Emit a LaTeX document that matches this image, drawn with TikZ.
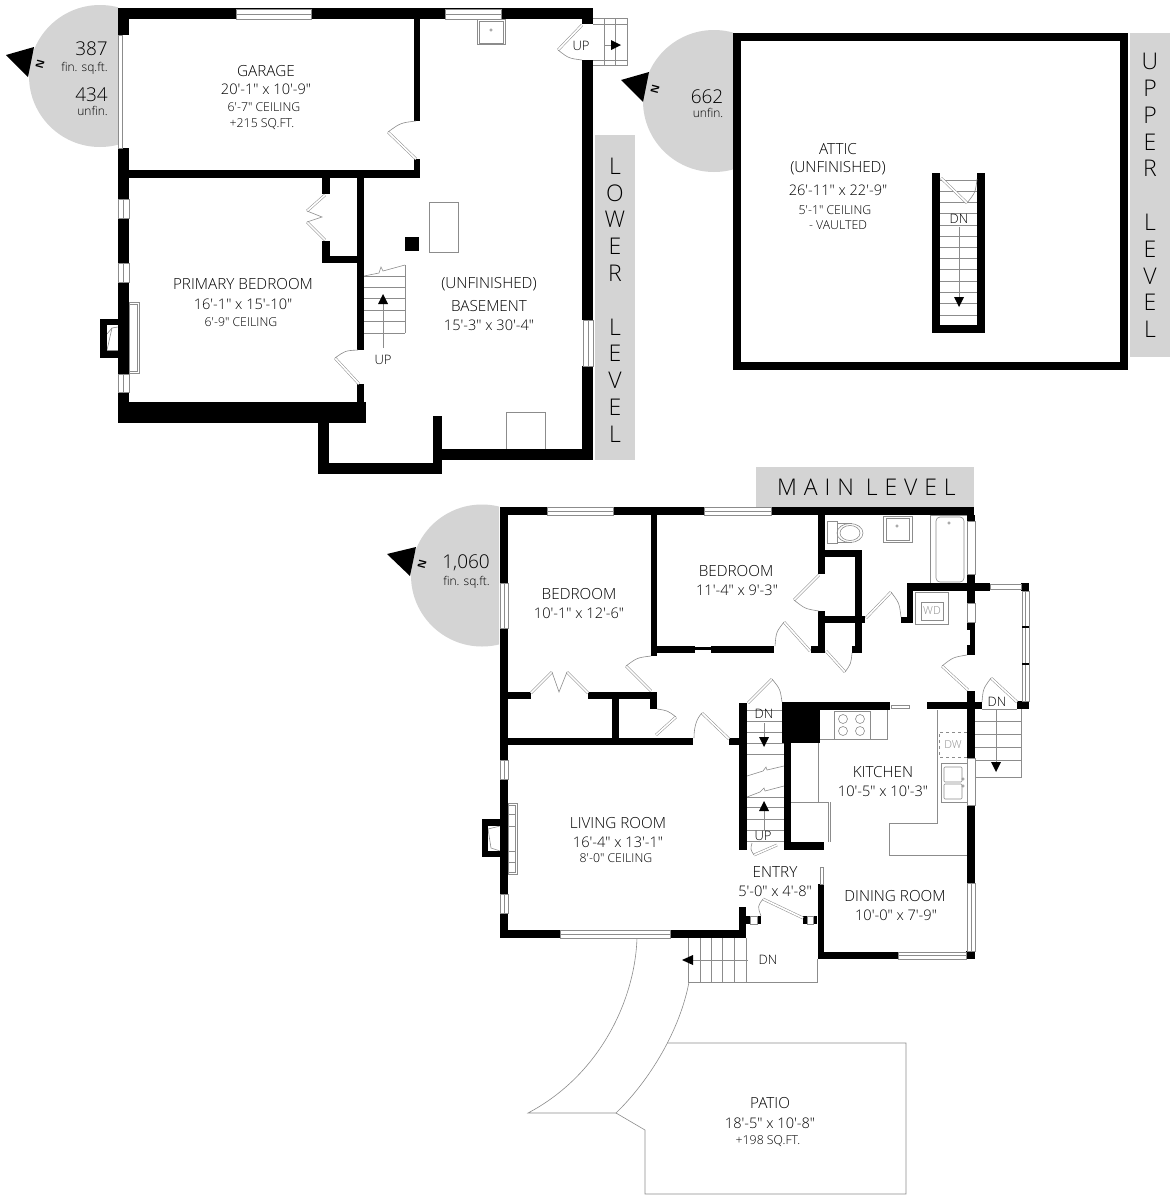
\documentclass[tikz,border=0pt]{standalone}
\usepackage{fontspec}
\usetikzlibrary{calc}
\newfontfamily\planfont{Open Sans Light}
\definecolor{tagbg}{gray}{0.83}
\definecolor{fixture}{gray}{0.55}
\tikzset{
  room/.style={font=\planfont\fontsize{15.3}{15.3}\selectfont,inner sep=0pt,text=black},
  dims/.style={font=\planfont\fontsize{14.6}{14.6}\selectfont,inner sep=0pt,text=black},
  note/.style={font=\planfont\fontsize{12.3}{12.3}\selectfont,inner sep=0pt,text=black},
  stairtext/.style={font=\planfont\fontsize{13}{13}\selectfont,inner sep=0pt,text=black},
  areanum/.style={font=\planfont\fontsize{19}{19}\selectfont,inner sep=0pt,anchor=east,text=black},
  areatxt/.style={font=\planfont\fontsize{12}{12}\selectfont,inner sep=0pt,anchor=east,text=black},
  levelname/.style={font=\planfont\fontsize{23}{26.8}\selectfont,inner sep=0pt,align=center},
  north/.style={font=\sffamily\bfseries\fontsize{11}{11}\selectfont,inner sep=0pt,rotate=75},
  thinline/.style={draw=fixture,line width=0.6pt},
  leaf/.style={draw=fixture,line width=0.5pt,double=white,double distance=1.7pt},
  pane/.style={fill=white,draw=fixture,line width=0.5pt}
}
% door: hinge, end of leaf, end of swing
\newcommand{\door}[3]{
  \draw[leaf] (#1) -- (#2);
  \draw[thinline] (#2) .. controls ($(#1)!1.11!($(#2)!0.5!(#3)$)$) .. (#3);
}
% window across a wall, x1 y1 x2 y2
\newcommand{\panerect}[4]{
  \draw[pane] (#1,#2) rectangle (#3,#4);
}
\begin{document}
\begin{tikzpicture}[x=1pt,y=-1pt]
\useasboundingbox (0,0) rectangle (1175,1200);
\fill[white] (0,0) rectangle (1175,1200);

% level tags
\begin{scope}
  \clip (0,0) rectangle (118,200);
  \fill[tagbg] (100,76) circle (71);
\end{scope}
\begin{scope}
  \clip (600,0) rectangle (733,200);
  \fill[tagbg] (714,101) circle (71);
\end{scope}
\begin{scope}
  \clip (400,480) rectangle (499,660);
  \fill[tagbg] (482,575.5) circle (71);
\end{scope}
\fill[tagbg] (595,135) rectangle (635,460);
\fill[tagbg] (1130,33) rectangle (1170,357);
\fill[tagbg] (756,467) rectangle (974,507);
\fill (6,55) -- (34,47) -- (28,77) -- cycle;
\fill (621,80) -- (649,72) -- (643,102) -- cycle;
\fill (387,554) -- (416,547) -- (410,576) -- cycle;

% lower level, fixtures
\draw[thinline] (477,19) rectangle (505,44);
\draw[thinline] (479,21) rectangle (503,43);
\draw[thinline] (491,30) circle (1.3);
\draw[thinline] (429,202) rectangle (458,252);
\draw[thinline] (506,449) -- (506,412) -- (545,412) -- (545,449);
\draw[thinline] (593,18) -- (627,18) -- (627,65) -- (593,65);
\foreach \sx in {604,615} \draw[thinline] (\sx,18) -- (\sx,65);
\draw[thinline] (593,24) -- (627,24);
\draw[thinline] (593,60) -- (627,60);
\draw[thinline] (604,45) -- (612,45);
\fill (611,40) -- (621,45) -- (611,50) -- cycle;
% lower stairs
\draw[thinline] (405,265) -- (405,333);
\foreach \sy in {287,298,310,321,333} \draw[thinline] (364,\sy) -- (405,\sy);
\draw[thinline] (364,276) -- (405,276);
\draw[thinline] (364,276) -- (379,273) -- (381,267) -- (383,271) -- (405,265);
\draw[thinline] (383,348) -- (383,303);
\fill (378,304) -- (383,294) -- (388,304) -- cycle;
% lower fireplace
\draw[thinline] (129,302) rectangle (139,373);
\draw[thinline] (129,304) -- (137,304) -- (137,371) -- (129,371);
\draw[thinline] (118,327) -- (112,328) -- (107,334);
\draw[thinline] (118,350) -- (107,350);
\draw[thinline] (112,328) -- (107,350);

% lower level, walls
\foreach \xa/\ya/\xb/\yb in {
  118/8/593/19, 118/8/129/35, 118/148/129/178, 118/170/420/178, 414/19/420/121, 414/159/420/178,
  118/178/129/199, 118/218/129/263, 118/282/129/374, 118/392/129/423,
  118/402/366/423, 100/319/118/325, 100/351/118/358, 100/319/107/358,
  322/178/330/194, 322/241/330/263, 322/256/364/263, 357/178/364/350, 357/384/364/402,
  318/423/329/474, 318/463/442/474, 433/416/442/474, 433/449/593/460,
  582/8/593/24, 582/60/593/320, 582/366/593/460, 405/237/419/251}
  \fill (\xa,\ya) rectangle (\xb,\yb);
% lower level, windows
\panerect{236}{9}{311}{19}
\draw[thinline] (236,14) -- (311,14);
\panerect{445}{9}{501}{19}
\draw[thinline] (445,14) -- (501,14);
\panerect{118}{35}{122}{148}
\panerect{118}{199}{129}{218}
\draw[thinline] (123.5,199) -- (123.5,218);
\panerect{118}{263}{129}{282}
\draw[thinline] (123.5,263) -- (123.5,282);
\panerect{118}{374}{129}{392}
\draw[thinline] (123.5,374) -- (123.5,392);
\panerect{583}{320}{593}{366}
\draw[thinline] (588,320) -- (588,366);
% lower level, doors
\door{416,159}{388,132}{416,121}
\door{359,384}{335,358}{358,350}
\door{582,25}{558,50}{582,60}
\draw[leaf] (325,195) -- (307,211);
\draw[leaf] (307,222) -- (325,240);
\draw[thinline] (307,211) -- (322,217) -- (307,222);

% attic
\draw[line width=7.5pt] (737,37) rectangle (1124,366);
\foreach \sy in {180,191,202,213,225,236,247,258,269,281,292,303,315}
  \draw[thinline] (940,\sy) -- (977,\sy);
\draw[thinline] (959,227) -- (959,298);
\fill (954,297) -- (964,297) -- (959,307) -- cycle;
\foreach \xa/\ya/\xb/\yb in {932/173/940/333, 977/173/985/333, 932/325/985/333}
  \fill (\xa,\ya) rectangle (\xb,\yb);
\door{941,178}{967,203}{977,179}

% main level, patio and walk
\draw[thinline] (637,938) .. controls (635,1000) and (600,1075) .. (528,1113) -- (616,1113);
\draw[thinline] (689,982) .. controls (680,1030) and (650,1080) .. (616,1113);
\draw[thinline] (667,1043) -- (906,1043) -- (906,1194) -- (645,1194) -- (645,1130) -- (616,1113);
% main level, porch
\draw[thinline] (688,938) -- (688,982) -- (817,982) -- (817,959);
\foreach \sx in {700,711,722,734,746} \draw[thinline] (\sx,938) -- (\sx,982);
\draw[thinline] (748,960) -- (690,960);
\fill (682,960) -- (693,955) -- (693,965) -- cycle;
% main level, back stairs
\draw[thinline] (975,777) -- (1021,777) -- (1021,709);
\foreach \sy in {721,734,747,760} \draw[thinline] (975,\sy) -- (1021,\sy);
\draw[thinline] (996,710) -- (996,764);
\fill (991,762) -- (1001,762) -- (996,772) -- cycle;
\draw[thinline] (982,709) -- (1017,709);
% main level, inner stairs
\foreach \sy in {710,721,732,743,754,797,807,819,830,841} \draw[thinline] (747,\sy) -- (784,\sy);
\draw[thinline] (747,776) -- (763,771) -- (766,767) -- (767,770) -- (784,766);
\draw[thinline] (747,797) -- (760,792) -- (764,788) -- (765,791) -- (784,786);
\draw[thinline] (764,723) -- (764,738);
\fill (759,737) -- (769,737) -- (764,747) -- cycle;
\draw[thinline] (764,830) -- (764,810);
\fill (759,811) -- (764,801) -- (769,811) -- cycle;
% main level, fireplace
\draw[thinline] (508,803) rectangle (517,874);
\draw[thinline] (508,805) -- (515,805) -- (515,872) -- (508,872);
\foreach \sy in {814,826,851,862} \draw[thinline] (508,\sy) -- (515,\sy);
\draw[thinline] (500,826) -- (488,829) -- (491,848) -- (500,851);
% main level, bath
\draw[thinline] (827,521) rectangle (837,543);
\draw[thinline] (837,523) -- (852,523);
\draw[thinline] (837,542) -- (852,542);
\draw[thinline] (850,533) ellipse (13 and 9.5);
\draw[thinline] (850,533) ellipse (10 and 7.5);
\draw[thinline] (883,516) rectangle (912,542);
\draw[thinline] (886,518) rectangle (909,540);
\draw[thinline] (897,526) circle (1.3);
\draw[thinline] (930,515) rectangle (967,583);
\draw[thinline,rounded corners=4pt] (936,517) rectangle (964,582);
\draw[thinline] (949,523) circle (1.3);
\draw[thinline] (915,592) rectangle (948,624);
\draw[thinline] (921,602) rectangle (943,620);
\node (MainWasher) [text=fixture,inner sep=0pt,font=\planfont\fontsize{11}{11}\selectfont] at (932,611) {WD};
% main level, kitchen
\draw[thinline] (820,739) -- (887,739) -- (887,710);
\draw[thinline] (834,711) rectangle (870,739);
\foreach \cx/\cy in {843/719,860/719,843/731,860/731} \draw[thinline] (\cx,\cy) circle (4.5);
\draw[thinline] (818,743) -- (818,802);
\draw[thinline] (791,802) -- (828,802) -- (828,842);
\draw[thinline] (830,802) -- (830,842);
\draw[thinline] (937,710) -- (937,823) -- (889,823) -- (889,855) -- (967,855);
\draw[thinline,dashed] (967,732) -- (939,732) -- (939,757) -- (967,757);
\node (MainDishwasher) [text=fixture,inner sep=0pt,font=\planfont\fontsize{11}{11}\selectfont] at (953,745) {DW};
\draw[thinline] (941,763) rectangle (967,802);
\draw[thinline,rounded corners=1pt] (944,767) rectangle (962,782);
\draw[thinline,rounded corners=1pt] (944,784) rectangle (962,799);
\draw[thinline] (963,779) circle (1.3);
\draw[thinline] (963,786) circle (1.3);

% main level, walls
\foreach \xa/\ya/\xb/\yb in {
  500/507/974/515, 500/507/508/583, 500/628/508/760, 500/779/508/894, 500/913/508/938,
  482/819/500/826, 482/851/500/857, 482/819/488/857,
  500/930/746/938, 508/692/531/699, 588/692/657/699, 612/699/619/738,
  651/515/657/656, 650/692/657/709, 500/738/693/745, 729/738/740/745,
  657/646/695/653, 711/646/774/653, 695/647/711/650,
  818/515/825/574, 818/611/825/653, 818/550/862/557, 855/550/862/653, 818/616/865/623,
  811/646/825/653, 852/646/862/653,
  907/583/990/591, 907/583/913/623, 901/617/913/623,
  967/515/975/521, 967/574/975/603, 967/622/975/630, 970/630/975/645, 967/645/975/655, 967/691/975/758, 967/805/975/883,
  966/951/975/959, 1021/583/1029/591, 1017/701/1029/709,
  739/703/747/850, 784/702/791/850, 782/702/890/710, 782/702/820/743,
  791/842/824/850, 927/702/982/709, 739/907/746/938, 818/884/824/959, 818/952/898/959,
  746/916/750/924, 757/916/761/924, 803/916/807/924, 813/916/817/924}
  \fill (\xa,\ya) rectangle (\xb,\yb);
% main level, windows
\panerect{547}{507}{613}{515}
\draw[thinline] (547,511) -- (613,511);
\panerect{704}{507}{771}{515}
\draw[thinline] (704,511) -- (771,511);
\panerect{500}{583}{508}{628}
\draw[thinline] (504,583) -- (504,628);
\panerect{500}{760}{508}{779}
\draw[thinline] (504,760) -- (504,779);
\panerect{500}{894}{508}{913}
\draw[thinline] (504,894) -- (504,913);
\panerect{560}{930}{670}{938}
\draw[thinline] (560,934) -- (670,934);
\panerect{967}{521}{975}{574}
\panerect{967}{603}{975}{622}
\panerect{967}{758}{975}{805}
\panerect{967}{883}{975}{951}
\draw[thinline] (971,883) -- (971,951);
\panerect{898}{952}{966}{959}
\draw[thinline] (898,955.5) -- (966,955.5);
\panerect{990}{584}{1021}{589}
\panerect{1022}{591}{1029}{701}
\draw[thinline] (1025.5,591) -- (1025.5,701);
\fill (1022,626) rectangle (1029,628);
\fill (1022,663) rectangle (1029,665);
\panerect{750}{916}{757}{924}
\panerect{807}{916}{813}{924}
\panerect{891}{705}{909}{708}
\panerect{820}{867}{823}{884}
% main level, doors
\door{651,691}{626,666}{651,656}
\door{656,735}{676,717}{657,709}
\draw[leaf] (729,739) -- (702,713);
\draw[thinline] (702,713) .. controls (697,718) and (694,726) .. (694,738);
\door{810,651}{784,622}{775,646}
\door{819,575}{794,600}{819,611}
\door{826,651}{845,672}{852,653}
\door{866,618}{891,592}{901,617}
\door{968,690}{942,666}{967,655}
\door{1017,702}{991,678}{982,702}
\door{748,703}{772,679}{782,702}
\door{777,845}{754,855}{752,843}
\door{803,918}{763,899}{761,916}
\draw[leaf] (531,693) -- (552,672);
\draw[leaf] (588,693) -- (567,672);
\draw[thinline] (552,672) -- (559,692) -- (567,672);

% lower level, labels
\node (AreaLowerFin) [areanum] at (108,49) {387};
\node (AreaLowerFinTxt) [areatxt] at (108,68) {fin. sq.ft.};
\node (AreaLowerUnf) [areanum] at (108,95) {434};
\node (AreaLowerUnfTxt) [areatxt] at (108,111) {unfin.};
\node (NorthLower) [north] at (40,64) {N};
\node (Garage) [room] at (266,71) {GARAGE};
\node (GarageSize) [dims] at (266,89) {20'-1" x 10'-9"};
\node (GarageCeil) [note] at (264,107) {6'-7" CEILING};
\node (GarageArea) [note] at (262,124) {+215 SQ.FT.};
\node (Primary) [room] at (243,284) {PRIMARY BEDROOM};
\node (PrimarySize) [dims] at (243,304) {16'-1" x 15'-10"};
\node (PrimaryCeil) [note] at (241,322) {6'-9" CEILING};
\node (BasementA) [room] at (489,284) {(UNFINISHED)};
\node (BasementB) [room] at (489,306) {BASEMENT};
\node (BasementSize) [dims] at (489,325) {15'-3" x 30'-4"};
\node (LowerUp) [stairtext] at (383,360) {UP};
\node (BackUp) [stairtext] at (581,46) {UP};
\node (LowerTag) [levelname] at (615,300) {L\\O\\W\\E\\R\\[26.8pt]L\\E\\V\\E\\L};

% attic, labels
\node (AreaAttic) [areanum] at (723.5,97) {662};
\node (AreaAtticTxt) [areatxt] at (723.5,113) {unfin.};
\node (NorthAttic) [north] at (655,89) {N};
\node (Attic) [room] at (838,149) {ATTIC};
\node (AtticB) [room] at (838,168) {(UNFINISHED)};
\node (AtticSize) [dims] at (838,190) {26'-11" x 22'-9"};
\node (AtticCeil) [note] at (835,210) {5'-1" CEILING};
\node (AtticVault) [note] at (838,225) {- VAULTED};
\node (AtticDown) [stairtext] at (959,219) {DN};
\node (UpperTag) [levelname] at (1150,195.5) {U\\P\\P\\E\\R\\[26.8pt]L\\E\\V\\E\\L};

% main level, labels
\node (MainTag) [font=\planfont\fontsize{23}{23}\selectfont,inner sep=0pt] at (866.5,487) {\addfontfeature{LetterSpace=30}MAIN\hspace{12pt}LEVEL};
\node (AreaMain) [areanum] at (490,563) {1,060};
\node (AreaMainTxt) [areatxt] at (490,582) {fin. sq.ft.};
\node (NorthMain) [north] at (422,564) {N};
\node (BedroomA) [room] at (579,594) {BEDROOM};
\node (BedroomASize) [dims] at (579,613) {10'-1" x 12'-6"};
\node (BedroomB) [room] at (736,571) {BEDROOM};
\node (BedroomBSize) [dims] at (737,590) {11'-4" x 9'-3"};
\node (Kitchen) [room] at (883,772) {KITCHEN};
\node (KitchenSize) [dims] at (883,791) {10'-5" x 10'-3"};
\node (Living) [room] at (618,823) {LIVING ROOM};
\node (LivingSize) [dims] at (618,842) {16'-4" x 13'-1"};
\node (LivingCeil) [note] at (616,858) {8'-0" CEILING};
\node (Entry) [room] at (775,872) {ENTRY};
\node (EntrySize) [dims] at (775,891) {5'-0" x 4'-8"};
\node (Dining) [room] at (895,896) {DINING ROOM};
\node (DiningSize) [dims] at (896,915) {10'-0" x 7'-9"};
\node (Patio) [room] at (770,1103) {PATIO};
\node (PatioSize) [dims] at (770,1123) {18'-5" x 10'-8"};
\node (PatioArea) [note] at (768,1141) {+198 SQ.FT.};
\node (StairDown) [stairtext] at (764,714) {DN};
\node (StairUp) [stairtext] at (763,836) {UP};
\node (BackDown) [stairtext] at (997,702) {DN};
\node (PorchDown) [stairtext] at (768,960) {DN};
\end{tikzpicture}
\end{document}
